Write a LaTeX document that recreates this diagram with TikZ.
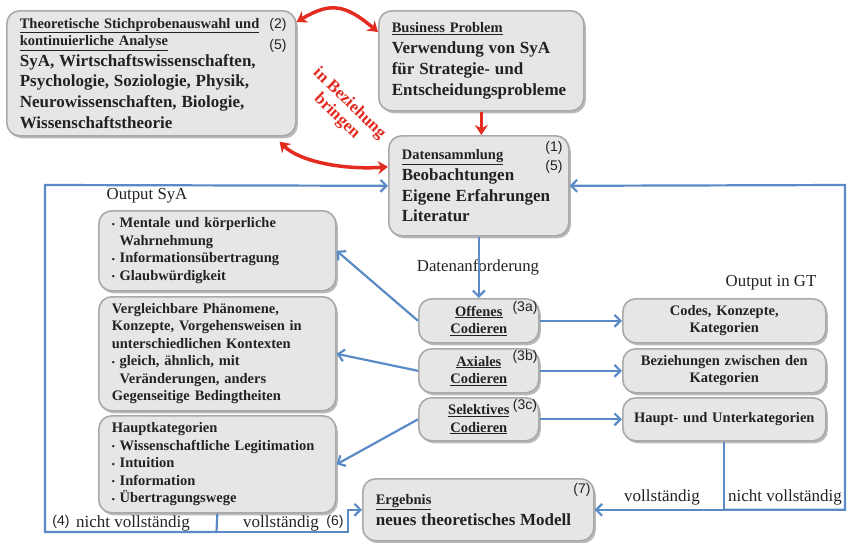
\documentclass[tikz,border=0pt]{standalone}
\usepackage{fontspec}
\setmainfont{Liberation Serif}
\newfontfamily\arialschrift{Liberation Sans}
\usetikzlibrary{arrows.meta, shadows}
\definecolor{boxgrau}{HTML}{E6E6E6}
\definecolor{randgrau}{HTML}{A9A9A9}
\definecolor{pfeilblau}{HTML}{5B8BC7}
\definecolor{pfeilrot}{HTML}{E32B20}
\definecolor{schrift}{HTML}{222222}
\newcommand{\klein}{\fontsize{14.5}{17.5}\selectfont}
\newcommand{\gross}{\fontsize{17}{20.7}\selectfont}
\newcommand{\nummer}{\arialschrift\fontsize{14}{16}\selectfont}
\newcommand{\pkt}{\raisebox{0.5pt}{\scalebox{0.6}{\textbullet}}\ }

\begin{document}
\begin{tikzpicture}[x=1pt, y=1pt,
	kasten/.style={draw=randgrau, line width=1.6pt, fill=boxgrau, rounded corners=13pt,
		drop shadow={shadow xshift=2pt, shadow yshift=-2.5pt, opacity=0.45, fill=black!60},
		anchor=north west, inner xsep=13pt, inner ysep=3pt, align=left,
		text=schrift, font=\bfseries\klein},
	mitte/.style={kasten, align=center, inner xsep=4pt},
	blau/.style={draw=pfeilblau, line width=2.2pt, -{Straight Barb[length=6pt, width=12pt]}},
	rot/.style={draw=pfeilrot, line width=3.5pt},
	nr/.style={font=\nummer, text=schrift, inner sep=0pt},
	beschriftung/.style={font=\fontsize{16.8}{19}\selectfont, text=schrift, inner sep=1pt}]
	
	\useasboundingbox (0,0) rectangle (848,-542);
	
	% obere Reihe
	\node[kasten, text width=263pt, minimum height=125pt] (theorie) at (6,-10)
	{{\klein\underline{Theoretische Stichprobenauswahl und}\\\underline{kontinuierliche Analyse}\par}
		{\gross SyA, Wirtschaftswissenschaften,\\Psychologie, Soziologie, Physik,\\Neurowissenschaften, Biologie,\\Wissenschaftstheorie\par}};
	\node[kasten, text width=179pt, minimum height=100pt] (problem) at (378,-10)
	{{\klein\underline{Business Problem}\par}
		{\gross Verwendung von SyA\\für Strategie- und\\Entscheidungsprobleme\par}};
	\node[kasten, text width=154pt, minimum height=100pt] (daten) at (388,-135)
	{{\klein\underline{Datensammlung}\par}
		{\gross Beobachtungen\\Eigene Erfahrungen\\Literatur\par}};
	
	\node[nr] (n2) at (278,-25) {(2)};
	\node[nr] (n5) at (278,-46) {(5)};
	\node[nr] (n1) at (554,-148) {(1)};
	\node[nr] (n5b) at (554,-167) {(5)};
	
	% Output SyA
	\node[beschriftung] (outsya) at (147,-196) {Output SyA};
	\node[kasten, text width=211pt, minimum height=80pt] (ausgabeA) at (98,-210)
	{\pkt Mentale und körperliche\\\phantom{\pkt}Wahrnehmung\\\pkt Informationsübertragung\\\pkt Glaubwürdigkeit};
	\node[kasten, text width=211pt, minimum height=114pt] (ausgabeB) at (98,-296)
	{Vergleichbare Phänomene,\\Konzepte, Vorgehensweisen in\\unterschiedlichen Kontexten\\\pkt gleich, ähnlich, mit\\\phantom{\pkt}Veränderungen, anders\\Gegenseitige Bedingtheiten};
	\node[kasten, text width=211pt, minimum height=97pt] (ausgabeC) at (98,-415)
	{Hauptkategorien\\\pkt Wissenschaftliche Legitimation\\\pkt Intuition\\\pkt Information\\\pkt Übertragungswege};
	
	% Codieren
	\node[mitte, text width=112pt, minimum height=44pt] (offen) at (418,-298)
	{\underline{Offenes}\\\underline{Codieren}};
	\node[mitte, text width=112pt, minimum height=44pt] (axial) at (418,-348)
	{\underline{Axiales}\\\underline{Codieren}};
	\node[mitte, text width=112pt, minimum height=43pt] (selektiv) at (418,-397)
	{\underline{Selektives}\\\underline{Codieren}};
	\node[nr] (n3a) at (525,-308) {(3a)};
	\node[nr] (n3b) at (525,-357) {(3b)};
	\node[nr] (n3c) at (525,-406) {(3c)};
	
	% Output in GT
	\node[beschriftung] (outgt) at (771,-283) {Output in GT};
	\node[mitte, text width=195pt, minimum height=44pt] (codes) at (622,-298)
	{Codes, Konzepte,\\Kategorien};
	\node[mitte, text width=195pt, minimum height=44pt] (beziehung) at (622,-348)
	{Beziehungen zwischen den\\Kategorien};
	\node[mitte, text width=195pt, minimum height=43pt] (hauptunter) at (622,-397)
	{Haupt- und Unterkategorien};
	
	% Ergebnis
	\node[kasten, text width=205pt, minimum height=62pt] (ergebnis) at (362,-478)
	{{\klein\underline{Ergebnis}\par}{\gross neues theoretisches Modell\par}};
	\node[nr] (n7) at (582,-490) {(7)};
	
	% rote Pfeile
	\draw[rot, {Stealth[length=10pt, width=13pt]}-{Stealth[length=10pt, width=13pt]}]
	([yshift=-12pt]theorie.north east) .. controls (330,-2) and (345,-4) .. ([yshift=-22pt]problem.north west);
	\draw[rot, {Stealth[length=10pt, width=13pt]}-{Stealth[length=10pt, width=13pt]}]
	([xshift=-17pt, yshift=-5pt]theorie.south east) .. controls (300,-162) and (345,-170) .. ([yshift=19pt]daten.west);
	\draw[rot, -{Stealth[length=10pt, width=13pt]}] (problem.south) -- (problem.south |- daten.north);
	\node[text=pfeilrot, font=\bfseries\fontsize{17}{18}\selectfont, align=center, rotate=-44, inner sep=0pt] (bringen) at (343,-110)
	{in Beziehung\\bringen};
	
	% blaue Pfeile
	\node[beschriftung] (anforderung) at (478,-267) {Datenanforderung};
	\draw[blau] (daten.south) -- (offen.north);
	\draw[blau] (offen.west) -- (ausgabeA.east);
	\draw[blau] (axial.west) -- (ausgabeB.east);
	\draw[blau] (selektiv.west) -- (ausgabeC.east);
	\draw[blau] (offen.east) -- (codes.west);
	\draw[blau] (axial.east) -- (beziehung.west);
	\draw[blau] (selektiv.east) -- (hauptunter.west);
	
	% Rueckkopplung
	\coordinate (kr) at (hauptunter.south |- ergebnis.east);
	\coordinate (rechtsoben) at (845,-185);
	\coordinate (kl) at (216.5,-532);
	\coordinate (knick) at (348,-532);
	\coordinate (linksoben) at (45,-185);
	\draw[blau] (hauptunter.south) |- (ergebnis.east);
	\draw[blau] (kr) -| (rechtsoben) -- (daten.east);
	\draw[blau] (ausgabeC.south) -- (kl) -| (linksoben) -- (daten.west);
	\draw[blau] (kl) -- (knick) |- (ergebnis.west);
	
	\node[beschriftung, font=\fontsize{17}{18}\selectfont] (vollR) at (662,-497) {vollständig};
	\node[beschriftung, font=\fontsize{17}{18}\selectfont] (nichtR) at (785,-497) {nicht vollständig};
	\node[nr] (n4) at (61,-522) {(4)};
	\node[beschriftung, font=\fontsize{17}{18}\selectfont] (nichtL) at (133,-523) {nicht vollständig};
	\node[beschriftung, font=\fontsize{17}{18}\selectfont] (vollL) at (281,-523) {vollständig};
	\node[nr] (n6) at (335,-522) {(6)};
\end{tikzpicture}
\end{document}
